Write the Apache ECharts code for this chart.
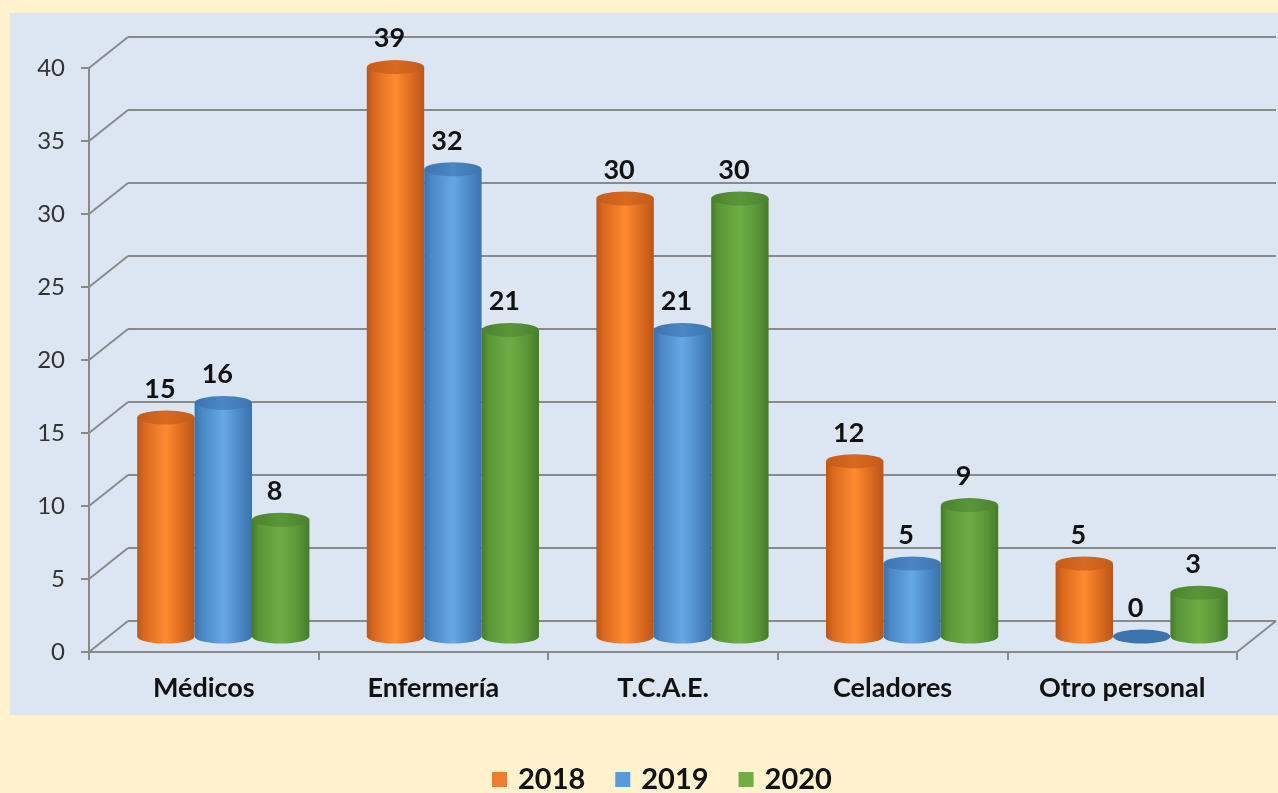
<!DOCTYPE html>
<html>
<head>
<meta charset="utf-8">
<script src="https://cdn.jsdelivr.net/npm/echarts@6/dist/echarts.min.js"></script>
<style>
    html, body { margin: 0; padding: 0; background: #FFF2CC; }
    #panel { position: absolute; left: 10px; top: 13px; width: 1268px; height: 702px; background: #DCE6F2; }
    #chart { position: absolute; left: 0; top: 0; width: 1278px; height: 793px; }
</style>
</head>
<body>
<div id="panel"></div>
<div id="chart"></div>
<script>
const categories = ['Médicos', 'Enfermería', 'T.C.A.E.', 'Celadores', 'Otro personal']
const years = ['2018', '2019', '2020']
const data2018 = [15, 39, 30, 12, 5]
const data2019 = [16, 32, 21, 5, 0]
const data2020 = [8, 21, 30, 9, 3]
const yTicks = [0, 5, 10, 15, 20, 25, 30, 35, 40]

// depth of the 3d box
const DX = 39
const DY = 31
const RY = 7

const palette = [
    { legend: '#ED7D31', edge: '#B9561A', mid: '#FF8A2F', top: '#D9691F', topEdge: '#C25C1A' },
    { legend: '#5B9BD5', edge: '#3A72AE', mid: '#66A8E6', top: '#4A87C4', topEdge: '#3D74B0' },
    { legend: '#70AD47', edge: '#467A2A', mid: '#6DAD45', top: '#5A9638', topEdge: '#4C8230' }
]

const chart = echarts.init(document.getElementById('chart'))

function frameItem(params, api) {
    const cs = params.coordSys
    const v = api.value(1)
    const y = api.coord([0, v])[1]
    const x0 = cs.x
    const xR = cs.x + cs.width
    const line = { stroke: '#8A8A8A', lineWidth: 2 }
    const children = [
        { type: 'line', shape: { x1: x0, y1: y, x2: x0 + DX, y2: y - DY }, style: line },
        { type: 'line', shape: { x1: x0 + DX, y1: y - DY, x2: xR + DX, y2: y - DY }, style: line }
    ]
    if (v === 0) {
        children.push({ type: 'line', shape: { x1: xR, y1: y, x2: xR + DX, y2: y - DY }, style: line })
    }
    return { type: 'group', children: children }
}

function cylinderItem(k) {
    return function (params, api) {
        const i = api.value(0)
        const v = api.value(1)
        const base = api.coord([i, 0])
        const top = api.coord([i, v])
        const band = api.size([1, 0])[0]
        const w = band * 0.25
        const rx = w / 2
        const cx = base[0] + DX / 2 + (k - 1) * w
        const yb = base[1] - DY / 2
        const yt = top[1] - DY / 2
        const x1 = cx - rx
        const x2 = cx + rx
        const c = palette[k]
        const children = []
        const topPath = 'M' + x1 + ' ' + yt + ' A' + rx + ' ' + RY + ' 0 1 0 ' + x2 + ' ' + yt +
            ' A' + rx + ' ' + RY + ' 0 1 0 ' + x1 + ' ' + yt + ' Z'
        if (v > 0) {
            const body = 'M' + x1 + ' ' + yt + ' L' + x1 + ' ' + yb +
                ' A' + rx + ' ' + RY + ' 0 0 0 ' + x2 + ' ' + yb + ' L' + x2 + ' ' + yt + ' Z'
            children.push({
                type: 'path',
                shape: { pathData: body },
                style: {
                    fill: new echarts.graphic.LinearGradient(0, 0, 1, 0, [
                        { offset: 0, color: c.edge },
                        { offset: 0.12, color: c.top },
                        { offset: 0.5, color: c.mid },
                        { offset: 0.8, color: c.top },
                        { offset: 1, color: c.edge }
                    ])
                }
            })
            children.push({
                type: 'path',
                shape: { pathData: topPath },
                style: {
                    fill: new echarts.graphic.LinearGradient(0, 0, 1, 0, [
                        { offset: 0, color: c.topEdge },
                        { offset: 0.5, color: c.top },
                        { offset: 1, color: c.topEdge }
                    ])
                }
            })
        } else {
            children.push({ type: 'path', shape: { pathData: topPath }, style: { fill: c.topEdge } })
        }
        children.push({
            type: 'text',
            style: {
                text: String(v),
                x: cx - 6,
                y: yt - RY - 8,
                align: 'center',
                verticalAlign: 'bottom',
                fill: '#111',
                font: 'bold 27px Lato, "Open Sans", sans-serif'
            }
        })
        return { type: 'group', children: children }
    }
}

const seriesData = [data2018, data2019, data2020]
const series = [{
    type: 'custom',
    name: 'frame',
    silent: true,
    z: 1,
    data: yTicks.map(function (t) { return [0, t] }),
    renderItem: frameItem
}]
years.forEach(function (y, k) {
    series.push({
        type: 'custom',
        name: y,
        z: 3,
        itemStyle: { color: palette[k].legend },
        data: seriesData[k].map(function (v, i) { return [i, v] }),
        renderItem: cylinderItem(k)
    })
})

chart.setOption({
    animation: false,
    backgroundColor: 'transparent',
    textStyle: { fontFamily: 'Lato, "Open Sans", sans-serif' },
    legend: {
        data: years,
        top: 760,
        left: 487,
        icon: 'rect',
        itemWidth: 15,
        itemHeight: 15,
        itemGap: 30,
        textStyle: { fontSize: 29, fontWeight: 'bold', color: '#111', padding: [0, 0, 0, 6] }
    },
    grid: { left: 89, right: 41, top: 68, bottom: 141 },
    xAxis: {
        type: 'category',
        data: categories,
        axisLine: { lineStyle: { color: '#8A8A8A', width: 2 } },
        axisTick: { show: true, length: 8, lineStyle: { color: '#8A8A8A', width: 2 } },
        axisLabel: { margin: 23, fontSize: 27, fontWeight: 'bold', color: '#111' }
    },
    yAxis: {
        type: 'value',
        min: 0,
        max: 40,
        interval: 5,
        axisLine: { show: true, lineStyle: { color: '#8A8A8A', width: 2 } },
        axisTick: { show: true, length: 8, lineStyle: { color: '#8A8A8A', width: 2 } },
        splitLine: { show: false },
        axisLabel: { margin: 24, fontSize: 24, color: '#333' }
    },
    series: series
})
</script>
</body>
</html>
